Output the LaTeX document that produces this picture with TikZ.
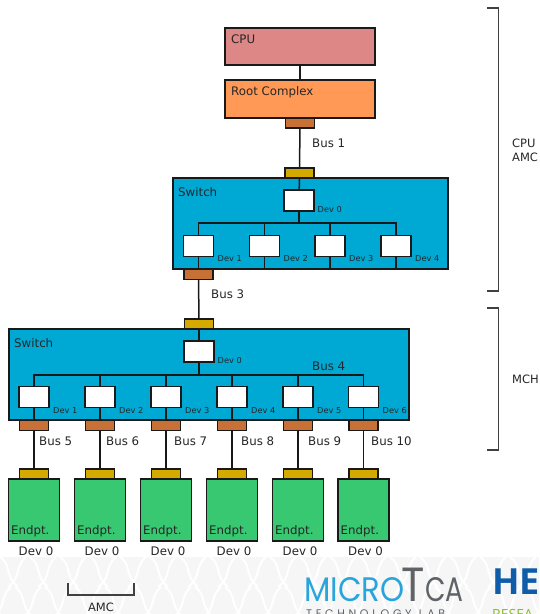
\documentclass[tikz,border=0pt]{standalone}
\usepackage{fontspec}
\usepackage{xcolor}
\setmainfont{DejaVu Sans}
\newfontfamily\logofont{Poppins}
\newfontfamily\logobold{Open Sans}
\usetikzlibrary{positioning}
\definecolor{cpured}{HTML}{DE8787}
\definecolor{rootorange}{HTML}{FF9955}
\definecolor{swblue}{HTML}{00A8D4}
\definecolor{portbrown}{HTML}{C87137}
\definecolor{portgold}{HTML}{D4AA00}
\definecolor{epgreen}{HTML}{37C871}
\definecolor{microblue}{HTML}{2AA5DC}
\definecolor{tcagray}{HTML}{5F6368}
\definecolor{heblue}{HTML}{0F5CA8}
\definecolor{resgreen}{HTML}{8DBB2B}
\tikzset{
  box/.style={draw=black!90, line width=1.5pt, inner sep=0pt, outer sep=0pt},
  cpubox/.style={box, fill=cpured, minimum width=150pt, minimum height=37pt},
  rootbox/.style={box, fill=rootorange, minimum width=150pt, minimum height=38pt},
  swbox/.style={box, fill=swblue},
  devbox/.style={box, fill=white, minimum width=30pt, minimum height=21pt},
  downport/.style={box, fill=portbrown, minimum width=29pt, minimum height=10pt},
  upport/.style={box, fill=portgold, minimum width=29pt, minimum height=10pt},
  epbox/.style={box, fill=epgreen, minimum width=51pt, minimum height=62pt},
  wire/.style={draw=black!90, line width=1.5pt},
  brack/.style={draw=black!75, line width=1.1pt},
  lbl/.style={font=\fontsize{11.8}{14}\selectfont, text=black!85, inner sep=0pt},
  devlbl/.style={font=\fontsize{8.2}{10}\selectfont, text=black!85, inner sep=0pt, anchor=west},
  logo/.style={inner sep=0pt, anchor=west},
}
\begin{document}
\begin{tikzpicture}[x=1pt, y=-1pt]
  \useasboundingbox (0,0) rectangle (539,614);
  \fill[white] (0,0) rectangle (539,614);
  % band with logos
  \begin{scope}
    \clip (0,557) rectangle (539,614);
    \fill[gray!7] (0,557) rectangle (539,614);
    \foreach \i in {-2,...,19} {
      \foreach \j in {0,1} {
        \draw[white, line width=2pt] (\i*30+\j*15,557+\j*30) .. controls (\i*30+\j*15+12,565+\j*30) and (\i*30+\j*15+4,575+\j*30) .. (\i*30+\j*15+18,587+\j*30);
        \draw[white, line width=2pt] (\i*30+\j*15+26,557+\j*30) .. controls (\i*30+\j*15+14,567+\j*30) and (\i*30+\j*15+22,577+\j*30) .. (\i*30+\j*15+8,587+\j*30);
      }
    }
    \node[logo] (micro) at (304,590) {\logofont\fontsize{34}{36}\selectfont\scalebox{.9}[1]{\textcolor{microblue}{MICRO}}};
    \node[logo] (tcat) at (401,585) {\logofont\fontsize{48}{50}\selectfont\scalebox{.9}[1]{\textcolor{tcagray}{T}}};
    \node[logo] (tcaca) at (425,590) {\logofont\fontsize{34}{36}\selectfont\scalebox{.78}[1]{\textcolor{tcagray}{CA}}};
    \node[logo, anchor=north west] (techlab) at (306,610) {\logofont\fontsize{11}{13}\selectfont\textcolor{tcagray}{T\,\,E\,\,C\,\,H\,\,N\,\,O\,\,L\,\,O\,\,G\,\,Y\,\,\,\,L\,\,A\,\,B}};
    \node[logo] (hel) at (492,582) {\logobold\bfseries\fontsize{36}{38}\selectfont\textcolor{heblue}{HE}};
    \node[logo, anchor=north west] (resea) at (492,609) {\logobold\fontsize{14}{16}\selectfont\textcolor{resgreen}{RESEA}};
  \end{scope}

  % CPU and root complex
  \node[cpubox] (cpu) at (300,46.5) {};
  \node[rootbox] (root) at (300,99) {};
  \node[lbl, anchor=west] (cpulbl) at (231,39.5) {CPU};
  \node[lbl, anchor=west] (rootlbl) at (231,92.5) {Root Complex};
  \node[downport] (rootport) at (300,123) {};
  \draw[wire] (cpu) -- (root);

  % Switch 1
  \node[swbox, minimum width=275pt, minimum height=91pt] (swa) at (310.5,223.5) {};
  \node[lbl, anchor=west] (swalbl) at (178,192) {Switch};
  \node[upport] (swaup) at (299.5,173) {};
  \node[devbox] (a0) at (299,200.5) {};
  \node[devlbl] (a0lbl) at (317.5,210) {Dev 0};
  \draw[wire] (rootport) -- (swaup);
  \draw[wire] (swaup) -- (a0);
  \foreach \i/\x in {1/198.5,2/264.5,3/330,4/396} {
    \node[devbox] (a\i) at (\x,246) {};
    \node[devlbl] (a\i lbl) at (\x+19,259) {Dev \i};
    \draw[wire] (a0.south) -- ++(0,12) -| (a\i.north);
    \draw[wire] (a\i.south) -- (a\i.south |- swa.south);
  }
  \node[downport] (swadown) at (198.5,274.5) {};

  % Switch 2
  \node[upport] (swbup) at (199,324) {};
  \node[swbox, minimum width=400pt, minimum height=91pt] (swb) at (209,374.5) {};
  \node[lbl, anchor=west] (swblbl) at (14,343) {Switch};
  \node[devbox] (b0) at (199,351.5) {};
  \node[devlbl] (b0lbl) at (217.5,361) {Dev 0};
  \draw[wire] (swadown) -- (swbup);
  \draw[wire] (swbup) -- (b0);
  \node[lbl, anchor=west] (bus4) at (312,366) {Bus 4};

  % Ports, buses and end points below switch 2
  \foreach \i/\x/\bx/\n in {1/34/39/5,2/100/106/6,3/166/174/7,4/232/241/8,5/298/308/9,6/363.5/371/10} {
    \node[devbox] (b\i) at (\x,397) {};
    \node[devlbl] (b\i lbl) at (\x+19,410.5) {Dev \i};
    \draw[wire] (b0.south) -- ++(0,13) -| (b\i.north);
    \node[downport] (bd\i) at (\x,425.5) {};
    \draw[wire] (b\i.south) -- (bd\i.north);
    \node[upport] (bu\i) at (\x,474) {};
    \draw[wire] (bd\i) -- (bu\i);
    \node[lbl, anchor=west] (bus\n) at (\bx,441) {Bus \n};
    \node[epbox] (ep\i) at (\x,510) {};
    \node[lbl, anchor=west] (ep\i lbl) at (\x-23,531) {Endpt.};
    \node[lbl] (ep\i dev) at (\x+2,551) {Dev 0};
  }
  \node[lbl, anchor=west] (bus1) at (312,143) {Bus 1};
  \node[lbl, anchor=west] (bus3) at (211,294) {Bus 3};

  % Brackets
  \coordinate (cputop) at (487,8);
  \coordinate (cpubot) at (487,291);
  \coordinate (mchtop) at (487,308);
  \coordinate (mchbot) at (487,450);
  \coordinate (amcl) at (68,583);
  \coordinate (amcr) at (134,583);
  \draw[brack] (cputop) -- ++(11.5,0) |- (cpubot);
  \draw[brack] (mchtop) -- ++(11.5,0) |- (mchbot);
  \draw[brack] (amcl) -- ++(0,12) -| (amcr);
  \node[lbl, anchor=west, align=left, font=\fontsize{11.5}{13.5}\selectfont] (cpuamc) at (512,150.5) {CPU\\AMC};
  \node[lbl, anchor=west, font=\fontsize{11.5}{13.5}\selectfont] (mch) at (512,379) {MCH};
  \node[lbl, font=\fontsize{11.5}{13.5}\selectfont] (amc) at (101,607) {AMC};
\end{tikzpicture}
\end{document}
